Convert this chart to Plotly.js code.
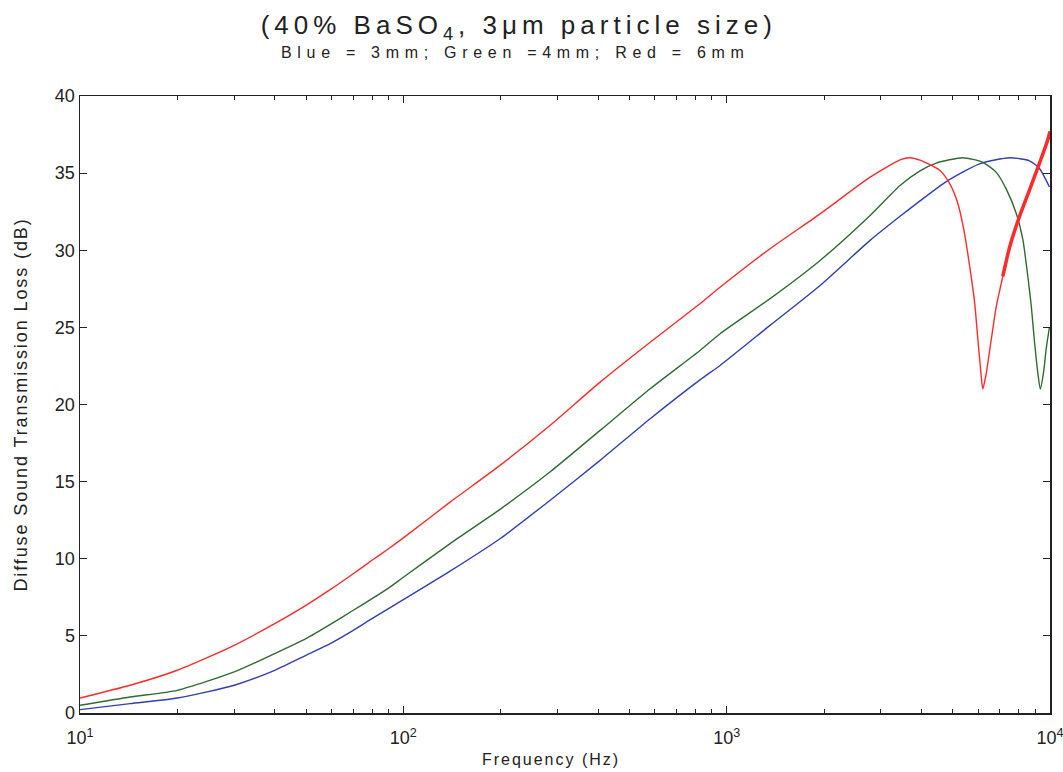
<!DOCTYPE html>
<html>
<head>
<meta charset="utf-8">
<script src="https://cdn.plot.ly/plotly-3.0.1.min.js"></script>
<style>
  html, body { margin: 0; padding: 0; background: #fff; overflow: hidden; }
  #chart { width: 1063px; height: 772px; }
</style>
</head>
<body>
<div id="chart"></div>
<script>
// ---- Data (frequency in Hz, loss in dB) ----
const freqBlue = [10, 14.3, 20, 30, 40, 50, 60, 70, 80, 90, 100, 139.5, 199, 284, 406, 580, 827, 954, 1362, 1945, 2777, 3437, 3963, 4777, 6053, 7500, 8640, 9280, 9960];
const lossBlue = [0.22, 0.61, 0.97, 1.8, 2.77, 3.74, 4.55, 5.36, 6.12, 6.77, 7.35, 9.2, 11.3, 13.78, 16.38, 19.08, 21.6, 22.53, 25.13, 27.72, 30.64, 32.2, 33.2, 34.45, 35.6, 36.0, 35.8, 35.3, 34.1];

const freqGreen = [10, 14.3, 20, 30, 40, 50, 60, 70, 80, 90, 100, 139.5, 199, 284, 406, 580, 827, 954, 1362, 1945, 2777, 3437, 3963, 4449, 5375, 6197, 6820, 7325, 7860, 8240, 8540, 8750, 8960, 9170, 9330, 9550, 9730, 9960];
const lossGreen = [0.5, 1.04, 1.47, 2.66, 3.85, 4.82, 5.79, 6.66, 7.41, 8.1, 8.8, 10.98, 13.2, 15.62, 18.32, 21.02, 23.5, 24.59, 26.86, 29.34, 32.26, 34.2, 35.15, 35.65, 36.0, 35.7, 35.05, 33.96, 32.4, 30.7, 28.3, 26.4, 24.0, 22.06, 21.0, 22.06, 23.6, 25.0];

const freqRed = [10, 14.3, 20, 30, 40, 50, 60, 70, 80, 90, 100, 139.5, 199, 284, 406, 580, 827, 954, 1362, 1945, 2777, 3437, 3682, 3963, 4550, 4886, 5185, 5440, 5640, 5846, 5985, 6130, 6197, 6350, 6580, 6820, 7145, 7500, 8050, 8640, 9280, 9840, 10000];
const lossRed = [0.97, 1.8, 2.77, 4.39, 5.79, 6.98, 8.06, 9.03, 9.9, 10.65, 11.35, 13.67, 16.05, 18.64, 21.45, 24.04, 26.53, 27.6, 30.1, 32.36, 34.74, 35.86, 36.0, 35.84, 35.2, 34.35, 33.05, 31.1, 29.0, 26.6, 24.2, 21.8, 21.0, 22.0, 24.2, 26.35, 28.3, 30.2, 32.2, 33.9, 35.65, 37.15, 37.7];
// the red curve is drawn as a thick jagged band above this frequency
const redBandFrom = 7000;

const xMajorTicks = [10, 100, 1000, 10000];
const xMajorText = ['10<sup>1</sup>', '10<sup>2</sup>', '10<sup>3</sup>', '10<sup>4</sup>'];
const xMinorTicks = [20, 30, 40, 50, 60, 70, 80, 90, 200, 300, 400, 500, 600, 700, 800, 900, 2000, 3000, 4000, 5000, 6000, 7000, 8000, 9000];
const yTicks = [0, 5, 10, 15, 20, 25, 30, 35, 40];

const titleText = '(40% BaSO<sub>4</sub>, 3μm particle size)';
const subtitleText = 'Blue = 3mm; Green =4mm; Red = 6mm';
const xTitleText = 'Frequency (Hz)';
const yTitleText = 'Diffuse Sound Transmission Loss (dB)';

const FONT = 'Liberation Sans, Arial, Helvetica, sans-serif';
const INK = '#222';

const bandIdx = freqRed.findIndex(function (f) { return f >= redBandFrom; });
const freqRedBand = freqRed.slice(bandIdx);
const lossRedBand = lossRed.slice(bandIdx);

const traces = [
  // invisible helper trace so the minor-tick axis (x2) is drawn
  { x: freqBlue, y: lossBlue, xaxis: 'x2', yaxis: 'y', mode: 'lines', line: { width: 0, color: 'rgba(0,0,0,0)' }, hoverinfo: 'skip', showlegend: false },
  { x: freqBlue, y: lossBlue, mode: 'lines', name: 'Blue = 3mm', line: { color: '#2f3fb4', width: 1.4, shape: 'spline', smoothing: 0.6 } },
  { x: freqGreen, y: lossGreen, mode: 'lines', name: 'Green = 4mm', line: { color: '#2f6a32', width: 1.4, shape: 'spline', smoothing: 0.6 } },
  { x: freqRed, y: lossRed, mode: 'lines', name: 'Red = 6mm', line: { color: '#ff2a2a', width: 1.4, shape: 'spline', smoothing: 0.6 } },
  { x: freqRedBand, y: lossRedBand, mode: 'lines', name: 'Red = 6mm (band)', showlegend: false, line: { color: '#ff2a2a', width: 3.5, shape: 'spline', smoothing: 0.6 } }
];

const layout = {
  width: 1063, height: 772,
  margin: { l: 80, r: 13, t: 96, b: 59 },
  paper_bgcolor: '#fff', plot_bgcolor: '#fff',
  showlegend: false,
  title: {
    text: titleText,
    font: { family: FONT, size: 26, color: INK },
    xref: 'container', x: 0.488, xanchor: 'center',
    yref: 'container', y: 0.979, yanchor: 'top'
  },
  annotations: [{
    text: subtitleText, xref: 'paper', yref: 'paper', x: 0.4485, y: 1.071,
    xanchor: 'center', yanchor: 'middle', showarrow: false,
    font: { family: FONT, size: 16, color: INK }
  }],
  xaxis: {
    type: 'log', range: [1, 4],
    tickmode: 'array', tickvals: xMajorTicks, ticktext: xMajorText,
    ticks: 'inside', ticklen: 7, tickcolor: INK, tickwidth: 1.2,
    ticklabeloverflow: 'allow', ticklabelstandoff: 8,
    showline: true, linecolor: INK, linewidth: 1.5, mirror: 'ticks',
    showgrid: false, zeroline: false,
    tickfont: { family: FONT, size: 18, color: INK },
    title: { text: xTitleText, font: { family: FONT, size: 16, color: INK }, standoff: 6 }
  },
  xaxis2: {
    type: 'log', range: [1, 4], overlaying: 'x', side: 'bottom',
    tickmode: 'array', tickvals: xMinorTicks,
    ticks: 'inside', ticklen: 4, tickcolor: INK, tickwidth: 1,
    showticklabels: false, showline: false, mirror: 'ticks',
    showgrid: false, zeroline: false
  },
  yaxis: {
    range: [0, 40],
    tickmode: 'array', tickvals: yTicks,
    ticks: 'inside', ticklen: 7, tickcolor: INK, tickwidth: 1.2,
    showline: true, linecolor: INK, linewidth: 1.5, mirror: 'ticks',
    showgrid: false, zeroline: false,
    tickfont: { family: FONT, size: 18, color: INK },
    title: { text: yTitleText, font: { family: FONT, size: 18, color: INK }, standoff: 22 }
  }
};

Plotly.newPlot('chart', traces, layout, { displayModeBar: false, staticPlot: true }).then(function () {
  document.querySelectorAll('.gtitle').forEach(function (el) { el.style.letterSpacing = '5px'; });
  document.querySelectorAll('.annotation-text').forEach(function (el) { el.style.letterSpacing = '5.7px'; });
  document.querySelectorAll('.xtitle').forEach(function (el) {
    el.style.letterSpacing = '2px';
    var x = parseFloat(el.getAttribute('x'));
    if (!isNaN(x)) el.setAttribute('x', x - 14);
  });
  document.querySelectorAll('.ytitle').forEach(function (el) { el.style.letterSpacing = '1.9px'; });
});
</script>
</body>
</html>
